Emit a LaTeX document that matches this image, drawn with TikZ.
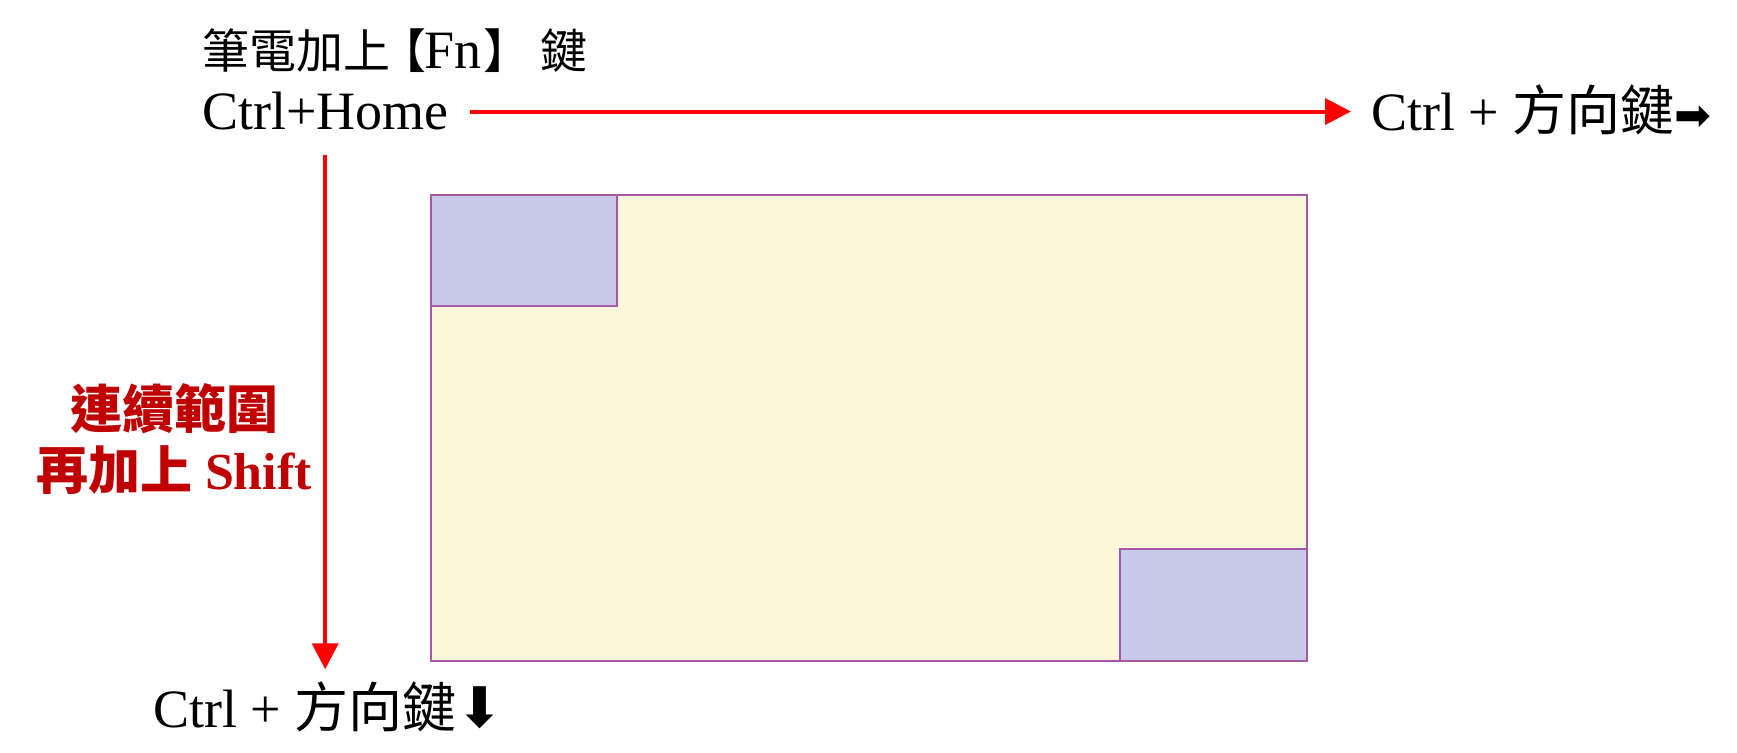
\documentclass[tikz,border=0pt]{standalone}
\usepackage{fontspec}
\setmainfont{Liberation Serif}
\newfontfamily\cjk{Noto Sans CJK TC}
\newfontfamily\cjkb{Noto Sans CJK TC Medium}
\newfontfamily\symf{DejaVu Sans}
\usetikzlibrary{arrows.meta}
\definecolor{rimc}{HTML}{A857A8}
\definecolor{paper}{HTML}{FEF6DB}
\definecolor{cornerc}{HTML}{C8CAEA}
\definecolor{redline}{HTML}{FF0000}
\definecolor{redtext}{HTML}{C00000}
\tikzset{
  lbl/.style={inner sep=0pt, outer sep=0pt, font=\fontsize{27}{32}\selectfont, text=black},
  redlbl/.style={inner sep=0pt, outer sep=0pt, font=\fontsize{26}{32}\selectfont\bfseries, text=redtext},
  area/.style={draw=rimc, line width=1pt, fill=paper},
  corner/.style={draw=rimc, line width=1pt, fill=cornerc},
  redarrow/.style={draw=redline, line width=2pt, -{Triangle[length=13pt,width=13pt]}}
}
\begin{document}
\begin{tikzpicture}[x=0.5pt, y=-0.5pt]
\useasboundingbox (0,0) rectangle (1737,753);
% area
\path[area] (431,195) rectangle (1307,661);
\path[corner] (431,195) rectangle (617,306);
\path[corner] (1120,549) rectangle (1307,661);
% labels
\node[lbl, anchor=base west] (fn) at (202,69) {{\cjk\fontsize{23.5}{30}\selectfont 筆電加上\kern-0.22em【\kern-0.05em}Fn{\cjk\fontsize{23.5}{30}\selectfont\kern0.05em 】\kern0.2em 鍵}};
\node[lbl, anchor=base west] (home) at (202,130) {Ctrl+Home};
\node[lbl, anchor=base west] (right) at (1371,131) {Ctrl + {\cjk 方向鍵}{\symf\fontsize{22}{30}\selectfont ➡}};
\node[lbl, anchor=base west] (down) at (153,727) {Ctrl + {\cjk 方向鍵}{\symf\fontsize{28}{30}\selectfont ⬇}};
\node[redlbl, anchor=base] (redA) at (174,429) {{\cjkb 連續範圍}};
\node[redlbl, anchor=base] (redB) at (174,490) {{\cjkb 再加上} Shift};
% arrows
\draw[redarrow, shorten <=11pt, shorten >=10pt] (home.east) -- (home.east -| right.west);
\draw[redarrow, shorten <=12pt, shorten >=6pt] (home.south) -- (home.south |- down.north);
\end{tikzpicture}
\end{document}
